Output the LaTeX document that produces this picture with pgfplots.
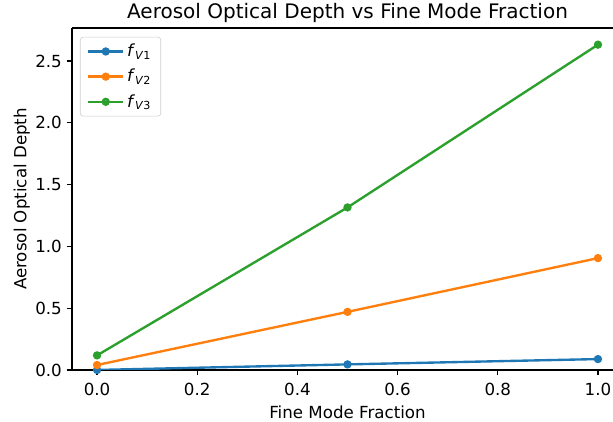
\documentclass[border=0pt]{standalone}
\usepackage{fontspec}
\setmainfont{DejaVu Sans}
\usepackage{pgfplots}
\pgfplotsset{compat=1.18}

\definecolor{mplblue}{HTML}{1F77B4}
\definecolor{mplorange}{HTML}{FF7F0E}
\definecolor{mplgreen}{HTML}{2CA02C}

\begin{document}
\begin{tikzpicture}
\begin{axis}[
    scale only axis,
    width=396.7pt, height=246.2pt,
    xmin=-0.05, xmax=1.05,
    ymin=0, ymax=2.767,
    xtick={0,0.2,0.4,0.6,0.8,1.0},
    ytick={0,0.5,1.0,1.5,2.0,2.5},
    axis x line*=bottom, axis y line*=left,
    x axis line style={-}, y axis line style={-},
    tick align=outside,
    major tick length=3.8pt,
    tick style={black, line width=0.8pt},
    axis line style={line width=0.8pt},
    /pgf/number format/assume math mode=true,
    /pgf/number format/fixed,
    /pgf/number format/fixed zerofill,
    /pgf/number format/precision=1,
    tick label style={font=\fontsize{12}{14}\selectfont},
    xticklabel style={yshift=-2.5pt},
    label style={font=\fontsize{12}{14}\selectfont},
    title style={font=\fontsize{14.4}{17}\selectfont, yshift=-6pt},
    title={Aerosol Optical Depth vs Fine Mode Fraction},
    xlabel={Fine Mode Fraction},
    ylabel={Aerosol Optical Depth},
    ylabel style={yshift=-3pt},
    legend cell align=left,
    legend style={at={(0.0145,0.974)}, anchor=north west,
        draw=black!20, rounded corners=2pt, fill=white, fill opacity=0.8,
        text opacity=1, font=\fontsize{12}{14}\selectfont,
        row sep=3.5pt, inner xsep=5pt, inner ysep=3pt},
    legend image code/.code={\draw[mark repeat=2,mark phase=2]
        plot coordinates {(0pt,0pt) (12.5pt,0pt) (25pt,0pt)};},
    every axis plot/.append style={line width=1.7pt, mark=*, mark size=2.1pt},
]
\coordinate (A) at (rel axis cs:0,0);
\coordinate (B) at (rel axis cs:1,1);
\draw[line width=0.8pt] (rel axis cs:0,1) -- (rel axis cs:1,1);

\addplot[color=mplblue] coordinates {(0,0.000) (0.5,0.045) (1,0.088)};
\addlegendentry{\textit{f}\textsubscript{\textit{V}1}}

\addplot[color=mplorange] coordinates {(0,0.040) (0.5,0.470) (1,0.905)};
\addlegendentry{\textit{f}\textsubscript{\textit{V}2}}

\addplot[color=mplgreen] coordinates {(0,0.118) (0.5,1.315) (1,2.632)};
\addlegendentry{\textit{f}\textsubscript{\textit{V}3}}
\end{axis}
\pgfresetboundingbox
\useasboundingbox ([shift={(-51.84pt,-37.44pt)}]A) rectangle ([shift={(-7.2pt,20.16pt)}]B);
\end{tikzpicture}
\end{document}
